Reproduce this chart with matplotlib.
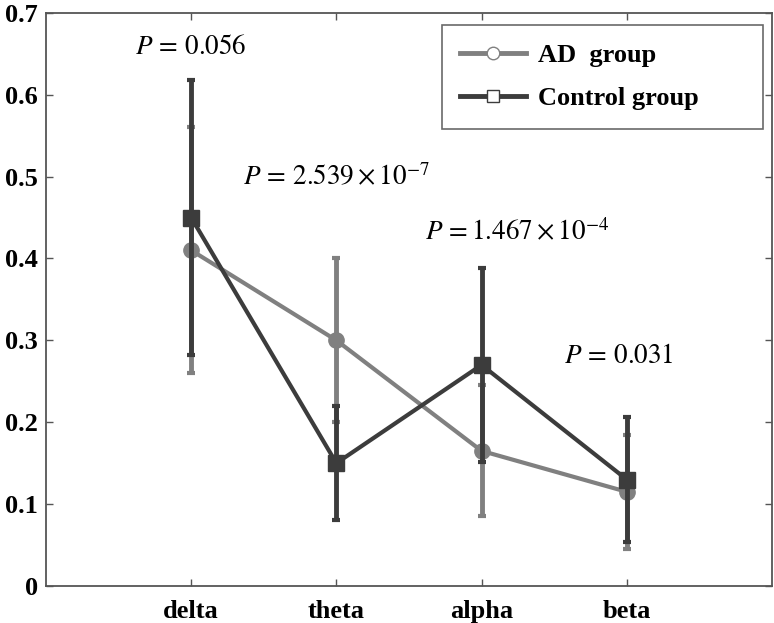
import matplotlib
matplotlib.use("Agg")
import matplotlib.pyplot as plt
from matplotlib.lines import Line2D

plt.rcParams['font.family'] = ['Liberation Serif', 'DejaVu Serif']
plt.rcParams['mathtext.fontset'] = 'stix'

bands = ["delta", "theta", "alpha", "beta"]
ad_mean = [0.41, 0.30, 0.165, 0.115]
ad_err = [0.15, 0.10, 0.08, 0.07]
ctrl_mean = [0.45, 0.15, 0.27, 0.13]
ctrl_err = [0.168, 0.07, 0.118, 0.076]
p_labels = [r"$P\,=\,0.056$", r"$P\,=\,2.539\times10^{-7}$",
            r"$P\,=1.467\times10^{-4}$", r"$P\,=\,0.031$"]
p_pos = [(0.61, 0.658), (1.36, 0.499), (2.61, 0.432), (3.57, 0.28)]

ad_color = "#808080"
ctrl_color = "#3c3c3c"

fig = plt.figure(figsize=(7.74, 6.23), dpi=100)
ax = fig.add_axes([0.0594, 0.0594, 0.938, 0.92])

x = list(range(1, len(bands) + 1))
ax.errorbar(x, ad_mean, yerr=ad_err, color=ad_color, lw=3, elinewidth=3.5,
            capsize=3, capthick=3, marker='o', ms=11, mfc=ad_color, mec=ad_color, zorder=2)
ax.errorbar(x, ctrl_mean, yerr=ctrl_err, color=ctrl_color, lw=3, elinewidth=3.5,
            capsize=3, capthick=3, marker='s', ms=12, mfc=ctrl_color, mec=ctrl_color, zorder=3)

for lab, (px, py) in zip(p_labels, p_pos):
    ax.text(px, py, lab, fontsize=19.5, ha='left', va='center')

ax.set_xlim(0, 5)
ax.set_ylim(0, 0.7)
ax.set_xticks(x)
ax.set_xticklabels(bands, fontsize=19, fontweight='bold')
ax.set_yticks([0, 0.1, 0.2, 0.3, 0.4, 0.5, 0.6, 0.7])
ax.set_yticklabels(["0", "0.1", "0.2", "0.3", "0.4", "0.5", "0.6", "0.7"],
                   fontsize=19, fontweight='bold')
ax.tick_params(direction='in', top=True, right=True, length=5, width=1, color="#555555")
ax.tick_params(axis='x', pad=10)
ax.tick_params(axis='y', pad=6)
for s in ax.spines.values():
    s.set_color("#555555")
    s.set_linewidth(1.3)

handles = [
    Line2D([], [], color=ad_color, lw=3.5, marker='o', ms=9, mfc='white', mec=ad_color),
    Line2D([], [], color=ctrl_color, lw=3.5, marker='s', ms=9, mfc='white', mec=ctrl_color),
]
leg = ax.legend(handles, ["AD  group", "Control group"], loc='upper left',
                bbox_to_anchor=(0.545, 0.805, 0.443, 0.174), mode='expand',
                borderaxespad=0, fancybox=False, edgecolor="#444444",
                prop={'weight': 'bold', 'size': 19}, handlelength=2.5,
                borderpad=0.7, labelspacing=0.75, handletextpad=0.45)
leg.get_frame().set_linewidth(1.2)

fig.savefig("out.png", dpi=100)
